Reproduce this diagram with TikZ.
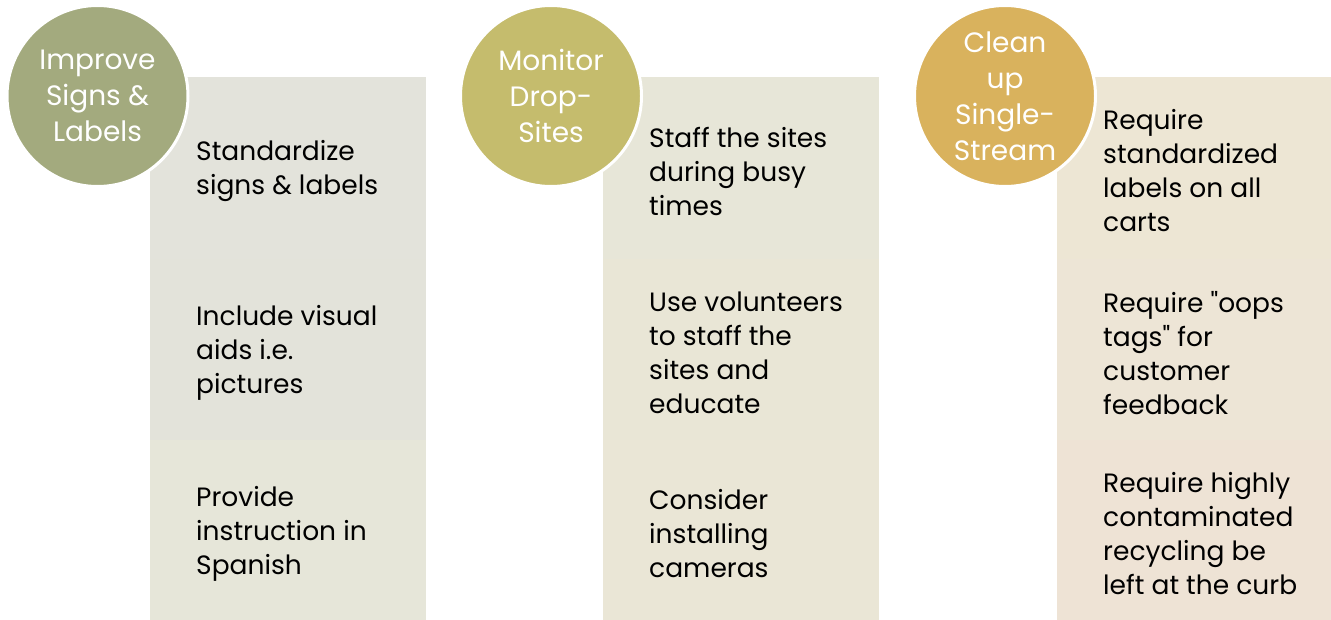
\documentclass[tikz,border=0pt]{standalone}
\usepackage{fontspec}
\setmainfont{Poppins}[Ligatures=TeXOff]
\definecolor{cA}{HTML}{A3AA7E}
\definecolor{cB}{HTML}{C5BC6D}
\definecolor{cC}{HTML}{D9B25D}
\definecolor{rA1}{HTML}{E3E3DB}
\definecolor{rA2}{HTML}{E3E3DA}
\definecolor{rA3}{HTML}{E6E6D9}
\definecolor{rB1}{HTML}{E7E6D8}
\definecolor{rB2}{HTML}{E9E6D6}
\definecolor{rB3}{HTML}{EAE6D6}
\definecolor{rC1}{HTML}{EDE6D4}
\definecolor{rC2}{HTML}{EDE5D6}
\definecolor{rC3}{HTML}{EEE3D5}
\tikzset{
  seg/.style={draw=none, inner sep=0pt, minimum width=276pt, minimum height=181.5pt, anchor=north west},
  body/.style={anchor=west, align=left, font=\fontsize{26.5}{34}\selectfont, text=black, inner sep=0pt},
  bubble/.style={circle, draw=white, line width=3pt, minimum size=181pt, inner sep=0pt, align=center, text=white, font=\fontsize{28}{36}\selectfont}
}
\begin{document}
\begin{tikzpicture}[x=1pt,y=-1pt]
\useasboundingbox (0,0) rectangle (1331,620);
% column 1
\node[seg, fill=rA1] (a1) at (150,77) {};
\node[seg, fill=rA2] (a2) at (150,258.5) {};
\node[seg, fill=rA3] (a3) at (150,440) {};
\node[body] (ta1) at (196,171) {Standardize\\signs \& labels};
\node[body] (ta2) at (196,353) {Include visual\\aids i.e.\\pictures};
\node[body] (ta3) at (196,534) {Provide\\instruction in\\Spanish};
\node[bubble, fill=cA] (ca) at (97.5,96) {Improve\\Signs \&\\Labels};
% column 2
\node[seg, fill=rB1] (b1) at (603,77) {};
\node[seg, fill=rB2] (b2) at (603,258.5) {};
\node[seg, fill=rB3] (b3) at (603,440) {};
\node[body] (tb1) at (649,171) {Staff the sites\\during busy\\times};
\node[body] (tb2) at (649,353) {Use volunteers\\to staff the\\sites and\\educate};
\node[body] (tb3) at (649,534) {Consider\\installing\\cameras};
\node[bubble, fill=cB] (cb) at (551,96) {Monitor\\Drop-\\Sites};
% column 3
\node[seg, fill=rC1, minimum width=275pt] (c1) at (1057,77) {};
\node[seg, fill=rC2, minimum width=275pt] (c2) at (1057,258.5) {};
\node[seg, fill=rC3, minimum width=275pt] (c3) at (1057,440) {};
\node[body] (tc1) at (1103,171) {Require\\standardized\\labels on all\\carts};
\node[body] (tc2) at (1103,353) {Require "oops\\tags" for\\customer\\feedback};
\node[body] (tc3) at (1103,534) {Require highly\\contaminated\\recycling be\\left at the curb};
\node[bubble, fill=cC] (cc) at (1005,96) {Clean\\up\\Single-\\Stream};
\end{tikzpicture}
\end{document}
